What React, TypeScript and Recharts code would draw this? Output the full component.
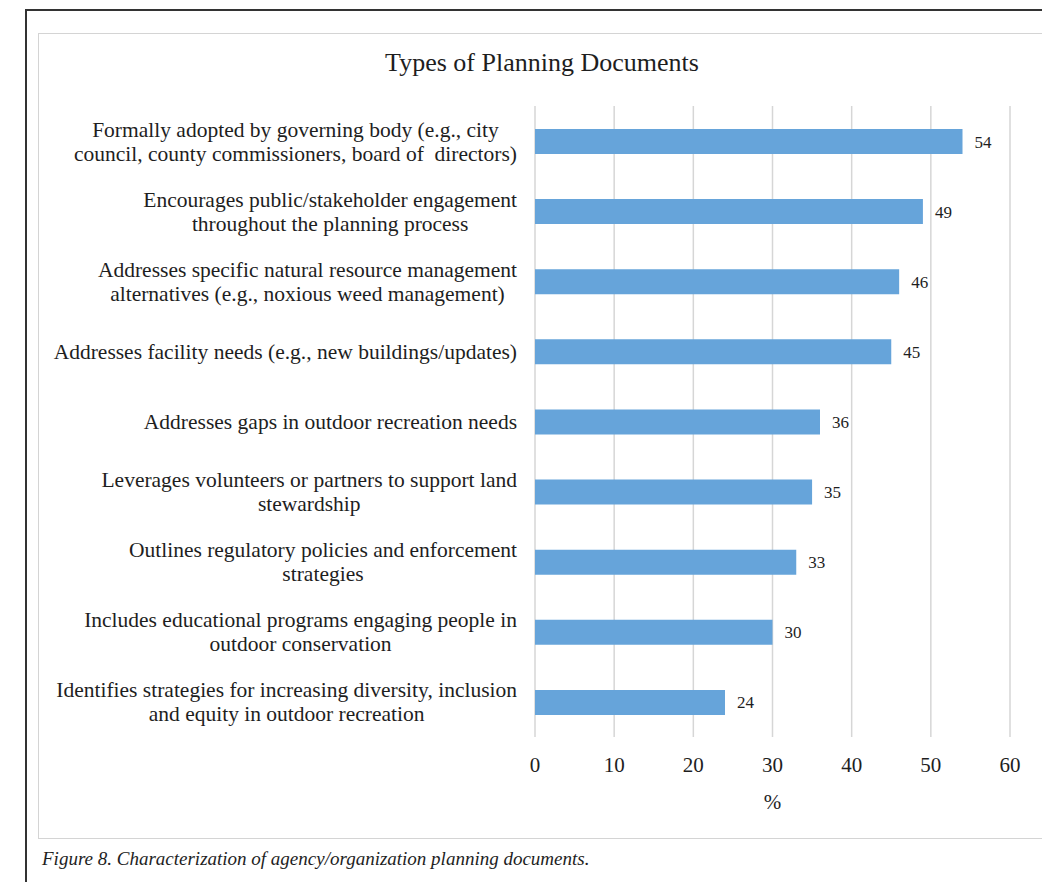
import React from "react";
import { Bar, BarChart, CartesianGrid, LabelList, XAxis, YAxis } from "recharts";

const categories = [
  "Formally adopted by governing body (e.g., city\ncouncil, county commissioners, board of  directors)",
  "Encourages public/stakeholder engagement\nthroughout the planning process",
  "Addresses specific natural resource management\nalternatives (e.g., noxious weed management)",
  "Addresses facility needs (e.g., new buildings/updates)",
  "Addresses gaps in outdoor recreation needs",
  "Leverages volunteers or partners to support land\nstewardship",
  "Outlines regulatory policies and enforcement\nstrategies",
  "Includes educational programs engaging people in\noutdoor conservation",
  "Identifies strategies for increasing diversity, inclusion\nand equity in outdoor recreation",
];
const percents = [54, 49, 46, 45, 36, 35, 33, 30, 24];
const xTicks = [0, 10, 20, 30, 40, 50, 60];

const SERIF = '"Liberation Serif", "Times New Roman", serif';
const BAR = "#66a4da";
const TEXT = "#1e1e1e";
const LABEL_FONT = 21.5;

const data = categories.map((name, i) => ({ name, value: percents[i] }));

let ctx: CanvasRenderingContext2D | null = null;
function textWidth(s: string): number {
  if (!ctx) ctx = document.createElement("canvas").getContext("2d");
  if (!ctx) return s.length * LABEL_FONT * 0.45;
  ctx.font = `${LABEL_FONT}px "Liberation Serif"`;
  return ctx.measureText(s).width;
}

function CategoryTick(props: any) {
  const { x, y, payload } = props;
  const lines: string[] = String(payload.value).split("\n");
  const maxW = Math.max(...lines.map(textWidth));
  const cx = x - maxW / 2;
  const lh = 24;
  const startY = y - ((lines.length - 1) * lh) / 2;
  return (
    <text fontFamily={SERIF} fontSize={LABEL_FONT} fill={TEXT} textAnchor="middle" style={{ whiteSpace: "pre" }}>
      {lines.map((l, i) => (
        <tspan key={i} x={cx} y={startY + i * lh} dy="0.35em">
          {l}
        </tspan>
      ))}
    </text>
  );
}

export default function App() {
  return (
    <div style={{ position: "absolute", left: 0, top: 0, width: 1042, height: 882, background: "#fff", overflow: "hidden" }}>
      <div style={{ position: "absolute", left: 25, top: 9, width: 1100, height: 1000, border: "2px solid #333" }} />
      <div style={{ position: "absolute", left: 38, top: 33, width: 1100, height: 804, border: "1.5px solid #d4d4d4" }} />
      <div
        style={{
          position: "absolute",
          left: 38,
          width: 1008,
          top: 48,
          textAlign: "center",
          fontFamily: SERIF,
          fontSize: 26,
          color: TEXT,
        }}
      >
        Types of Planning Documents
      </div>
      <div style={{ position: "absolute", left: 0, top: 33 }}>
        <BarChart
          width={1042}
          height={805}
          data={data}
          layout="vertical"
          barSize={25}
          margin={{ top: 73, right: 32, bottom: 21, left: 38 }}
        >
          <CartesianGrid horizontal={false} stroke="#d6d6d6" strokeWidth={1.5} />
          <XAxis
            type="number"
            domain={[0, 60]}
            ticks={xTicks}
            axisLine={false}
            tickLine={false}
            tickSize={0}
            tickMargin={20}
            height={80}
            tick={{ fontFamily: SERIF, fontSize: 21, fill: TEXT }}
            label={{ value: "%", position: "insideBottom", offset: 8, fontFamily: SERIF, fontSize: 21, fill: TEXT }}
          />
          <YAxis
            type="category"
            dataKey="name"
            width={497}
            axisLine={false}
            tickLine={false}
            tickSize={0}
            tickMargin={18}
            interval={0}
            tick={<CategoryTick />}
          />
          <Bar dataKey="value" fill={BAR} isAnimationActive={false}>
            <LabelList dataKey="value" position="right" offset={12} fontFamily={SERIF} fontSize={17} fill={TEXT} />
          </Bar>
        </BarChart>
      </div>
      <div
        style={{
          position: "absolute",
          left: 42,
          top: 848,
          fontFamily: SERIF,
          fontStyle: "italic",
          fontSize: 19,
          color: TEXT,
        }}
      >
        Figure 8. Characterization of agency/organization planning documents.
      </div>
    </div>
  );
}
